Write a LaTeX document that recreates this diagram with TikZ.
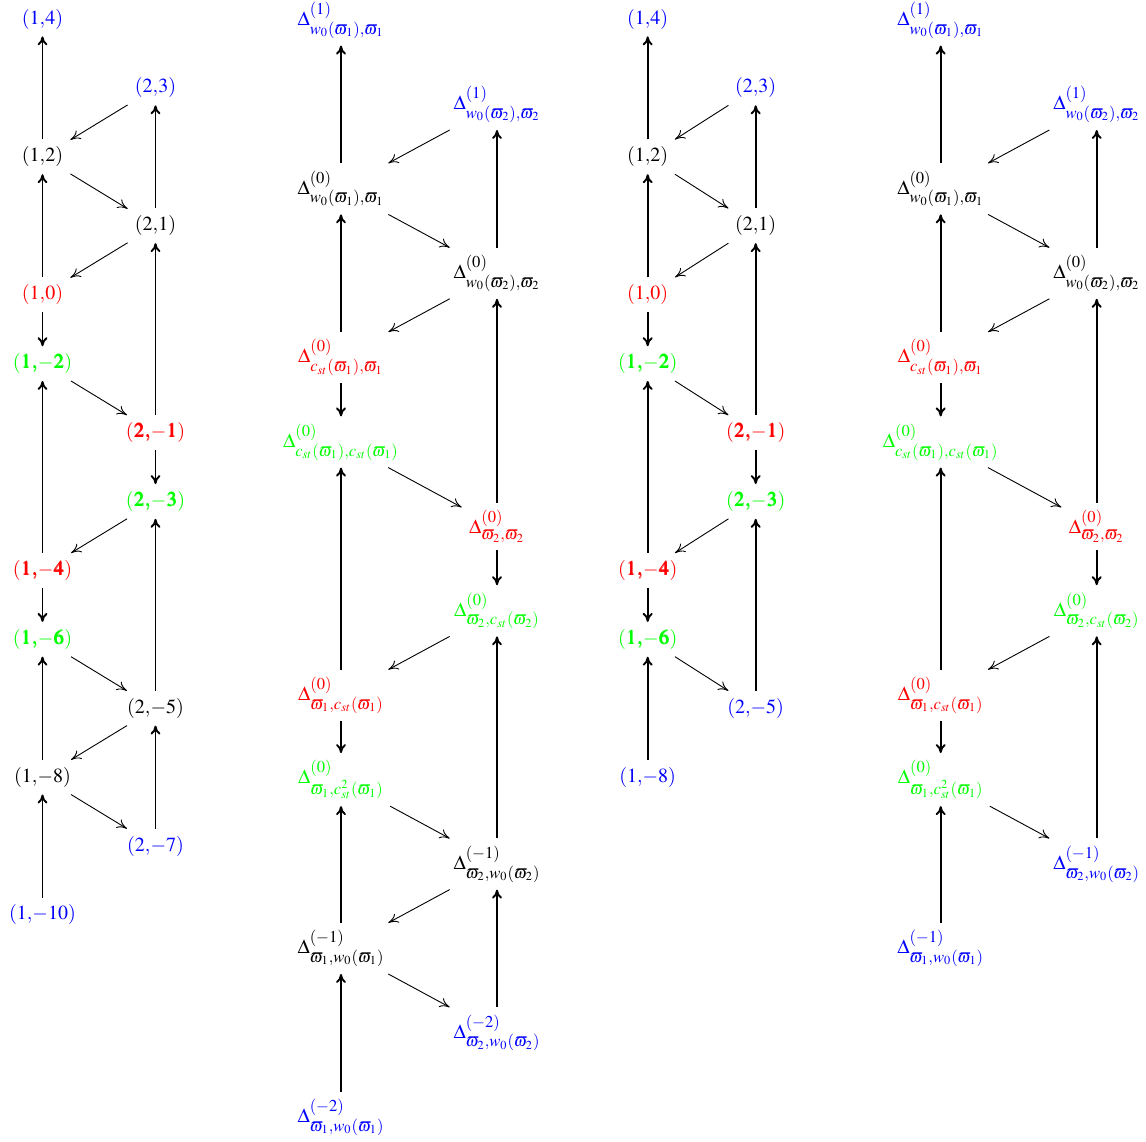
\documentclass[tikz,border=0pt]{standalone}
\IfFileExists{mathptmx.sty}{\usepackage{mathptmx}}{}
\usepackage{bm}
\usetikzlibrary{arrows.meta}
\tikzset{
  nd/.style={inner sep=3.5pt, font=\fontsize{10}{12}\selectfont},
  varr/.style={line width=0.95pt, -{To[length=4.5pt,width=5pt]}},
  darr/.style={line width=0.45pt, -{To[length=5pt,width=5pt]}},
}
\newcommand{\scr}[1]{\mbox{\fontsize{8.3}{9}\selectfont$#1$}}
\newcommand{\Dl}[2]{\Delta^{\scr{(#1)}}_{\scr{#2}}}
\newcommand{\wa}{\varpi_1}
\newcommand{\wb}{\varpi_2}
\newcommand{\cs}{c_{st}}
\newcommand{\cm}{{,}}
\newcommand{\pr}[2]{(#1{,}#2)}
\newcommand{\bpr}[2]{(\bm{#1}{\bm{,}}\bm{#2})}
\begin{document}
\begin{tikzpicture}[x=0.5pt,y=-0.5pt]
\useasboundingbox (0,0) rectangle (1146,1141);
% ---------- column 1 ----------
\def\L{42.5}\def\R{155.5}\def\yz{19}\def\st{68.92}
\node[nd,blue]  (a0)  at (\L,\yz+0*\st)  {$\pr{1}{4}$};
\node[nd,blue]  (a1)  at (\R,\yz+1*\st)  {$\pr{2}{3}$};
\node[nd]       (a2)  at (\L,\yz+2*\st)  {$\pr{1}{2}$};
\node[nd]       (a3)  at (\R,\yz+3*\st)  {$\pr{2}{1}$};
\node[nd,red]   (a4)  at (\L,\yz+4*\st)  {$\pr{1}{0}$};
\node[nd,green] (a5)  at (\L,\yz+5*\st)  {$\bpr{1}{{-}2}$};
\node[nd,red]   (a6)  at (\R,\yz+6*\st)  {$\bpr{2}{{-}1}$};
\node[nd,green] (a7)  at (\R,\yz+7*\st)  {$\bpr{2}{{-}3}$};
\node[nd,red]   (a8)  at (\L,\yz+8*\st)  {$\bpr{1}{{-}4}$};
\node[nd,green] (a9)  at (\L,\yz+9*\st)  {$\bpr{1}{{-}6}$};
\node[nd]       (a10) at (\R,\yz+10*\st) {$\pr{2}{{-}5}$};
\node[nd]       (a11) at (\L,\yz+11*\st) {$\pr{1}{{-}8}$};
\node[nd,blue]  (a12) at (\R,\yz+12*\st) {$\pr{2}{{-}7}$};
\node[nd,blue]  (a13) at (\L,\yz+13*\st) {$\pr{1}{{-}10}$};
% ---------- column 3 ----------
\def\L{647.7}\def\R{755.7}
\node[nd,blue]  (c0)  at (\L,\yz+0*\st)  {$\pr{1}{4}$};
\node[nd,blue]  (c1)  at (\R,\yz+1*\st)  {$\pr{2}{3}$};
\node[nd]       (c2)  at (\L,\yz+2*\st)  {$\pr{1}{2}$};
\node[nd]       (c3)  at (\R,\yz+3*\st)  {$\pr{2}{1}$};
\node[nd,red]   (c4)  at (\L,\yz+4*\st)  {$\pr{1}{0}$};
\node[nd,green] (c5)  at (\L,\yz+5*\st)  {$\bpr{1}{{-}2}$};
\node[nd,red]   (c6)  at (\R,\yz+6*\st)  {$\bpr{2}{{-}1}$};
\node[nd,green] (c7)  at (\R,\yz+7*\st)  {$\bpr{2}{{-}3}$};
\node[nd,red]   (c8)  at (\L,\yz+8*\st)  {$\bpr{1}{{-}4}$};
\node[nd,green] (c9)  at (\L,\yz+9*\st)  {$\bpr{1}{{-}6}$};
\node[nd,blue]  (c10) at (\R,\yz+10*\st) {$\pr{2}{{-}5}$};
\node[nd,blue]  (c11) at (\L,\yz+11*\st) {$\pr{1}{{-}8}$};
% ---------- column 2 ----------
\def\L{341}\def\R{497}\def\yz{20}\def\st{84.4}
\node[nd,blue]  (b0)  at (\L,\yz+0*\st)  {$\Dl{1}{w_0(\wa)\cm\wa}$};
\node[nd,blue]  (b1)  at (\R,\yz+1*\st)  {$\Dl{1}{w_0(\wb)\cm\wb}$};
\node[nd]       (b2)  at (\L,\yz+2*\st)  {$\Dl{0}{w_0(\wa)\cm\wa}$};
\node[nd]       (b3)  at (\R,\yz+3*\st)  {$\Dl{0}{w_0(\wb)\cm\wb}$};
\node[nd,red]   (b4)  at (\L,\yz+4*\st)  {$\Dl{0}{\cs(\wa)\cm\wa}$};
\node[nd,green] (b5)  at (\L,\yz+5*\st)  {$\Dl{0}{\cs(\wa)\cm\cs(\wa)}$};
\node[nd,red]   (b6)  at (\R,\yz+6*\st)  {$\Dl{0}{\wb\cm\wb}$};
\node[nd,green] (b7)  at (\R,\yz+7*\st)  {$\Dl{0}{\wb\cm\cs(\wb)}$};
\node[nd,red]   (b8)  at (\L,\yz+8*\st)  {$\Dl{0}{\wa\cm\cs(\wa)}$};
\node[nd,green] (b9)  at (\L,\yz+9*\st)  {$\Dl{0}{\wa\cm c^2_{st}(\wa)}$};
\node[nd]       (b10) at (\R,\yz+10*\st) {$\Dl{-1}{\wb\cm w_0(\wb)}$};
\node[nd]       (b11) at (\L,\yz+11*\st) {$\Dl{-1}{\wa\cm w_0(\wa)}$};
\node[nd,blue]  (b12) at (\R,\yz+12*\st) {$\Dl{-2}{\wb\cm w_0(\wb)}$};
\node[nd,blue]  (b13) at (\L,\yz+13*\st) {$\Dl{-2}{\wa\cm w_0(\wa)}$};
% ---------- column 4 ----------
\def\L{940.7}\def\R{1096.7}
\node[nd,blue]  (d0)  at (\L,\yz+0*\st)  {$\Dl{1}{w_0(\wa)\cm\wa}$};
\node[nd,blue]  (d1)  at (\R,\yz+1*\st)  {$\Dl{1}{w_0(\wb)\cm\wb}$};
\node[nd]       (d2)  at (\L,\yz+2*\st)  {$\Dl{0}{w_0(\wa)\cm\wa}$};
\node[nd]       (d3)  at (\R,\yz+3*\st)  {$\Dl{0}{w_0(\wb)\cm\wb}$};
\node[nd,red]   (d4)  at (\L,\yz+4*\st)  {$\Dl{0}{\cs(\wa)\cm\wa}$};
\node[nd,green] (d5)  at (\L,\yz+5*\st)  {$\Dl{0}{\cs(\wa)\cm\cs(\wa)}$};
\node[nd,red]   (d6)  at (\R,\yz+6*\st)  {$\Dl{0}{\wb\cm\wb}$};
\node[nd,green] (d7)  at (\R,\yz+7*\st)  {$\Dl{0}{\wb\cm\cs(\wb)}$};
\node[nd,red]   (d8)  at (\L,\yz+8*\st)  {$\Dl{0}{\wa\cm\cs(\wa)}$};
\node[nd,green] (d9)  at (\L,\yz+9*\st)  {$\Dl{0}{\wa\cm c^2_{st}(\wa)}$};
\node[nd,blue]  (d10) at (\R,\yz+10*\st) {$\Dl{-1}{\wb\cm w_0(\wb)}$};
\node[nd,blue]  (d11) at (\L,\yz+11*\st) {$\Dl{-1}{\wa\cm w_0(\wa)}$};
% ---------- arrows ----------
\foreach \p in {a,b}{
  \foreach \s/\t in {2/0,3/1,4/2,4/5,6/3,6/7,8/5,8/9,10/7,11/9,12/10,13/11}
    \draw[varr] (\p\s) -- (\p\t);
  \foreach \s/\t in {1/2,2/3,3/4,5/6,7/8,9/10,10/11,11/12}
    \draw[darr] (\p\s) -- (\p\t);
}
\foreach \p in {c,d}{
  \foreach \s/\t in {2/0,3/1,4/2,4/5,6/3,6/7,8/5,8/9,10/7,11/9}
    \draw[varr] (\p\s) -- (\p\t);
  \foreach \s/\t in {1/2,2/3,3/4,5/6,7/8,9/10}
    \draw[darr] (\p\s) -- (\p\t);
}
\end{tikzpicture}
\end{document}
